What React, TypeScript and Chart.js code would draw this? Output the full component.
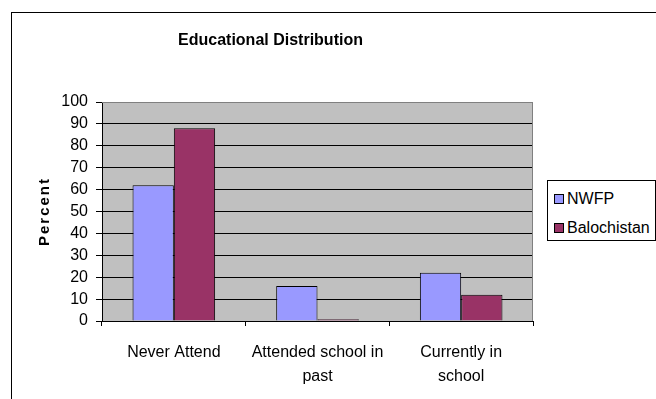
import React, { useEffect, useRef } from "react";
import { Chart, registerables } from "chart.js";

Chart.register(...registerables);

const CATEGORIES: string[][] = [["Never Attend"], ["Attended school in", "past"], ["Currently in", "school"]];
const SERIES_NAMES = ["NWFP", "Balochistan"];
const NWFP_VALUES = [62, 16, 22];
const BALOCHISTAN_VALUES = [88, 0.8, 12];
const SERIES_COLORS = ["#9999FF", "#993366"];
const Y_MIN = 0;
const Y_MAX = 100;
const Y_STEP = 10;
const TITLE = "Educational Distribution";
const Y_TITLE = "Percent";

const FONT = '"Liberation Sans", Arial, sans-serif';

const plotPlugin = {
  id: "plotDecor",
  beforeDraw(chart: any) {
    const { ctx, chartArea } = chart;
    ctx.save();
    ctx.fillStyle = "#C0C0C0";
    ctx.fillRect(chartArea.left, chartArea.top, chartArea.right - chartArea.left, chartArea.bottom - chartArea.top);
    ctx.restore();
  },
  afterDraw(chart: any) {
    const { ctx, chartArea } = chart;
    ctx.save();
    ctx.strokeStyle = "#808080";
    ctx.lineWidth = 1;
    ctx.beginPath();
    const t = Math.round(chartArea.top) + 0.5;
    const r = Math.round(chartArea.right) - 0.5;
    ctx.moveTo(chartArea.left, t);
    ctx.lineTo(r, t);
    ctx.lineTo(r, chartArea.bottom);
    ctx.stroke();
    ctx.restore();

    ctx.save();
    ctx.translate(49, (chartArea.top + chartArea.bottom) / 2);
    ctx.rotate(-Math.PI / 2);
    ctx.font = `bold 15px ${FONT}`;
    try {
      (ctx as any).letterSpacing = "2px";
    } catch (e) {}
    ctx.fillStyle = "#000";
    ctx.textAlign = "center";
    ctx.textBaseline = "alphabetic";
    ctx.fillText(Y_TITLE, 0, 0);
    ctx.restore();
  },
};

export default function App() {
  const ref = useRef<HTMLCanvasElement | null>(null);

  useEffect(() => {
    if (!ref.current) return;
    const chart = new Chart(ref.current, {
      type: "bar",
      data: {
        labels: CATEGORIES,
        datasets: [
          {
            label: SERIES_NAMES[0],
            data: NWFP_VALUES,
            backgroundColor: SERIES_COLORS[0],
            borderColor: "#000",
            borderWidth: 1,
          },
          {
            label: SERIES_NAMES[1],
            data: BALOCHISTAN_VALUES,
            backgroundColor: SERIES_COLORS[1],
            borderColor: "#000",
            borderWidth: 1,
          },
        ],
      },
      options: {
        animation: false,
        responsive: false,
        maintainAspectRatio: false,
        devicePixelRatio: 1,
        datasets: {
          bar: { categoryPercentage: 0.575, barPercentage: 1 },
        },
        layout: { padding: { left: 8, right: 8, top: 0, bottom: 0 } },
        plugins: {
          legend: { display: false },
          tooltip: { enabled: false },
          title: {
            display: true,
            text: TITLE,
            color: "#000",
            font: { family: FONT, size: 16, weight: "bold" },
            padding: { top: 31, bottom: 51.8 },
          },
        },
        scales: {
          x: {
            type: "category",
            offset: true,
            grid: {
              offset: true,
              drawOnChartArea: false,
              drawTicks: true,
              tickLength: 5,
              color: "#000",
              tickColor: "#000",
            },
            border: { display: true, color: "#000", width: 1 },
            ticks: {
              color: "#000",
              font: { family: FONT, size: 16, lineHeight: 1.5 },
              padding: 15,
              maxRotation: 0,
              minRotation: 0,
              autoSkip: false,
            },
            afterFit: (scale: any) => {
              scale.height = 78;
            },
          },
          y: {
            min: Y_MIN,
            max: Y_MAX,
            grid: {
              color: (c: any) => (c.tick && c.tick.value === Y_MAX ? "#808080" : "#000"),
              tickColor: "#000",
              drawTicks: true,
              tickLength: 6,
              lineWidth: 1,
            },
            border: { display: true, color: "#000", width: 1 },
            ticks: {
              stepSize: Y_STEP,
              autoSkip: false,
              maxTicksLimit: 11,
              color: "#000",
              font: { family: FONT, size: 16 },
              padding: 8,
            },
            afterFit: (scale: any) => {
              scale.width = 94;
            },
          },
        },
      },
      plugins: [plotPlugin],
    });
    return () => chart.destroy();
  }, []);

  return (
    <div
      style={{
        position: "fixed",
        left: 0,
        top: 0,
        width: 656,
        height: 399,
        overflow: "hidden",
        background: "#fff",
      }}
    >
      <div
        style={{
          position: "absolute",
          left: 11,
          top: 12,
          width: 700,
          height: 500,
          borderLeft: "1px solid #000",
          borderTop: "1px solid #000",
          boxSizing: "border-box",
        }}
      />
      <canvas
        ref={ref}
        width={541}
        height={399}
        style={{ position: "absolute", left: 0, top: 0, width: 541, height: 399 }}
      />
      <div
        style={{
          position: "absolute",
          left: 547,
          top: 180,
          width: 109,
          height: 61,
          border: "1px solid #000",
          boxSizing: "border-box",
          fontFamily: FONT,
          fontSize: 16,
          color: "#000",
        }}
      >
        {SERIES_NAMES.map((name, i) => (
          <div
            key={name}
            style={{
              position: "absolute",
              left: 6,
              top: 8 + i * 29,
              height: 20,
              display: "flex",
              alignItems: "center",
              whiteSpace: "nowrap",
            }}
          >
            <span
              style={{
                display: "inline-block",
                width: 10,
                height: 10,
                boxSizing: "border-box",
                border: "1px solid #000",
                background: SERIES_COLORS[i],
                marginRight: 3,
              }}
            />
            <span>{name}</span>
          </div>
        ))}
      </div>
    </div>
  );
}
